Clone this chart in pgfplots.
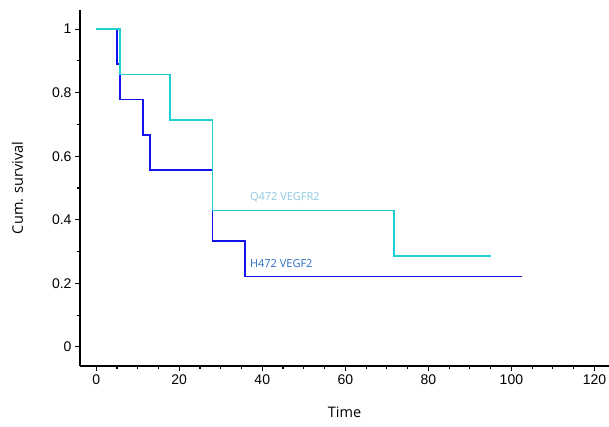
\documentclass[border=0pt]{standalone}
\usepackage{fontspec}
\setmainfont{Open Sans}
\newfontfamily\tickfont{Liberation Sans}
\usepackage{pgfplots}
\pgfplotsset{compat=1.18}

\definecolor{hblue}{HTML}{1414F0}
\definecolor{qcyan}{HTML}{1ED2D2}
\definecolor{qlab}{HTML}{8CC8E0}
\definecolor{hlab}{HTML}{2A6CC0}

\begin{document}
\begin{tikzpicture}
\begin{axis}[
    scale only axis,
    width=529pt, height=356pt,
    xmin=-3.9, xmax=123.5,
    ymin=-0.06, ymax=1.06,
    axis lines=left,
    axis line style={-, line width=1.4pt},
    xtick={0,20,...,120},
    ytick={0,0.2,...,1},
    minor x tick num=3,
    minor y tick num=1,
    tick align=outside,
    major tick length=5pt,
    minor tick length=3pt,
    tick style={black, line width=1.1pt},
    ticklabel style={font=\tickfont\fontsize{14}{16}\selectfont},
    /pgf/number format/assume math mode=true,
    xlabel={Time},
    ylabel={Cum. survival},
    label style={font=\fontsize{14.5}{16}\selectfont},
    xlabel style={yshift=-16pt},
    ylabel style={yshift=22pt},
    clip=false,
]
% H472 VEGF2
\addplot[hblue, line width=1.7pt, const plot] coordinates {
    (0,1) (5,0.889) (5.8,0.778) (11.2,0.667) (13,0.556)
    (28,0.333) (35.8,0.222) (102.5,0.222)
};
% Q472 VEGFR2
\addplot[qcyan, line width=1.7pt, const plot] coordinates {
    (0,1) (5.8,0.857) (17.8,0.714) (28,0.429) (71.8,0.286) (95,0.286)
};
\node[anchor=west, text=qlab, font=\fontsize{11}{13}\selectfont, inner sep=0pt] at (axis cs:37,0.471) {Q472 VEGFR2};
\node[anchor=west, text=hlab, font=\fontsize{11}{13}\selectfont, inner sep=0pt] at (axis cs:37,0.262) {H472 VEGF2};
\end{axis}
\pgfresetboundingbox
\path (current axis.south west) ++(-80pt,-61pt) coordinate (a);
\path[use as bounding box] (a) rectangle ([shift={(0pt,10pt)}]current axis.north east);
\end{tikzpicture}
\end{document}
